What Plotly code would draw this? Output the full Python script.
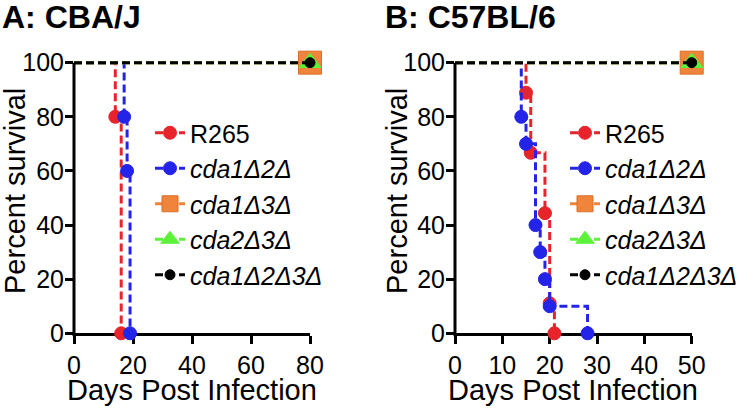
import plotly.graph_objects as go

# ---------------- data ----------------
series_names = ["R265", "<i>cda1Δ2Δ</i>", "<i>cda1Δ3Δ</i>", "<i>cda2Δ3Δ</i>", "<i>cda1Δ2Δ3Δ</i>"]

# Panel A: CBA/J
a_r265_days = [0, 14, 16]
a_r265_surv = [100, 80, 0]
a_cda12_days = [0, 17, 18, 19]
a_cda12_surv = [100, 80, 60, 0]
a_cda13_days = [0, 80]
a_cda13_surv = [100, 100]
a_cda23_days = [0, 80]
a_cda23_surv = [100, 100]
a_cda123_days = [0, 80]
a_cda123_surv = [100, 100]

# Panel B: C57BL/6
b_r265_days = [0, 15, 16, 19, 20, 21]
b_r265_surv = [100, 88.9, 66.7, 44.4, 11.1, 0]
b_cda12_days = [0, 14, 15, 17, 18, 19, 20, 28]
b_cda12_surv = [100, 80, 70, 40, 30, 20, 10, 0]
b_cda13_days = [0, 50]
b_cda13_surv = [100, 100]
b_cda23_days = [0, 50]
b_cda23_surv = [100, 100]
b_cda123_days = [0, 50]
b_cda123_surv = [100, 100]

a_xticks = [0, 20, 40, 60, 80]
b_xticks = [0, 10, 20, 30, 40, 50]
yticks = [0, 20, 40, 60, 80, 100]

panel_titles = ["<b>A: CBA/J</b>", "<b>B: C57BL/6</b>"]
x_title = "Days Post Infection"
y_title = "Percent survival"

# ---------------- styles ----------------
FONT = "Arial, 'Liberation Sans', Helvetica, sans-serif"
styles = [
    dict(color="#E8232B", symbol="circle", size=13, mline="#E8232B"),
    dict(color="#2424E8", symbol="circle", size=13, mline="#2424E8"),
    dict(color="#F0843A", symbol="square", size=23, mline="#D9702A"),
    dict(color="#5CF23A", symbol="triangle-up", size=19, mline="#5CF23A"),
    dict(color="#000000", symbol="circle", size=10, mline="#000000"),
]
line_colors = ["#E8232B", "#2424E8", "#F0843A", "#5CF23A", "#000000"]

W, H = 750, 409
y_top_val = 101.5
ydom = [(H - 333.3) / H, (H - 58.6) / H]
xdomA = [74 / W, 310 / W]
xdomB = [455 / W, 691.7 / W]

fig = go.Figure()

panels = [
    ("x", "y", "legend", [(a_r265_days, a_r265_surv), (a_cda12_days, a_cda12_surv),
                          (a_cda13_days, a_cda13_surv), (a_cda23_days, a_cda23_surv),
                          (a_cda123_days, a_cda123_surv)]),
    ("x2", "y2", "legend2", [(b_r265_days, b_r265_surv), (b_cda12_days, b_cda12_surv),
                             (b_cda13_days, b_cda13_surv), (b_cda23_days, b_cda23_surv),
                             (b_cda123_days, b_cda123_surv)]),
]

for xa, ya, leg, data in panels:
    for i, (dx, dy) in enumerate(data):
        st = styles[i]
        fig.add_trace(go.Scatter(
            x=dx, y=dy, xaxis=xa, yaxis=ya, legend=leg,
            name=series_names[i], mode="lines+markers",
            line=dict(shape="hv", color=line_colors[i], width=3, dash="8px,4px"),
            marker=dict(symbol=st["symbol"], size=st["size"], color=st["color"],
                        line=dict(color=st["mline"], width=1)),
            selectedpoints=list(range(1, len(dx))),
            unselected=dict(marker=dict(opacity=0)),
            cliponaxis=False, hoverinfo="skip",
        ))

tick_common = dict(
    showgrid=False, zeroline=False,
    ticks="outside", ticklen=8, tickwidth=3, tickcolor="black",
    tickfont=dict(family=FONT, size=25, color="black"),
    layer="below traces", automargin=False,
)

LEG_FONT = dict(family=FONT, size=25, color="black")
fig.update_layout(
    width=W, height=H,
    margin=dict(l=0, r=0, t=0, b=0, autoexpand=False),
    paper_bgcolor="white", plot_bgcolor="white",
    showlegend=True,
    xaxis=dict(domain=xdomA, range=[0, 80], tickvals=a_xticks, anchor="y",
               showline=True, linewidth=3, linecolor="black", **tick_common),
    yaxis=dict(domain=ydom, range=[0, y_top_val], tickvals=yticks, anchor="x",
               showline=False, ticklabelstandoff=-4, **tick_common),
    xaxis2=dict(domain=xdomB, range=[0, 50], tickvals=b_xticks, anchor="y2",
                showline=True, linewidth=3, linecolor="black", **tick_common),
    yaxis2=dict(domain=ydom, range=[0, y_top_val], tickvals=yticks, anchor="x2",
                showline=False, ticklabelstandoff=-4, **tick_common),
    legend=dict(x=150 / W, y=(H - 110) / H, xanchor="left", yanchor="top",
                font=LEG_FONT, bgcolor="rgba(0,0,0,0)", tracegroupgap=0),
    legend2=dict(x=565 / W, y=(H - 110) / H, xanchor="left", yanchor="top",
                 font=LEG_FONT, bgcolor="rgba(0,0,0,0)", tracegroupgap=0),
)

# y axis lines from 0 to 100 (paper coords)
y100 = ydom[0] + (ydom[1] - ydom[0]) * 100 / y_top_val
for xd in (xdomA, xdomB):
    fig.add_shape(type="line", xref="paper", yref="paper",
                  x0=xd[0], x1=xd[0], y0=ydom[0] - 3 / H, y1=y100,
                  line=dict(color="black", width=3))

# Titles and axis titles
ann = []
ann.append(dict(text=panel_titles[0], x=0 / W, y=1, xanchor="left", yanchor="top",
                yshift=3, font=dict(family=FONT, size=32, color="black")))
ann.append(dict(text=panel_titles[1], x=383 / W, y=1, xanchor="left", yanchor="top",
                yshift=3, font=dict(family=FONT, size=32, color="black")))
for xd, yx in ((xdomA, 15), (xdomB, 397)):
    ann.append(dict(text=x_title, x=(xd[0] + xd[1]) / 2, y=(H - 390) / H,
                    xanchor="center", yanchor="middle",
                    font=dict(family=FONT, size=29, color="black")))
    ann.append(dict(text=y_title, x=yx / W, y=(H - 191) / H, textangle=-90,
                    xanchor="center", yanchor="middle",
                    font=dict(family=FONT, size=29, color="black")))
for a in ann:
    a.update(xref="paper", yref="paper", showarrow=False)
fig.update_layout(annotations=ann)

fig.write_html("out.html", config={"displayModeBar": False},
               post_script="document.body.style.margin='0px';")
